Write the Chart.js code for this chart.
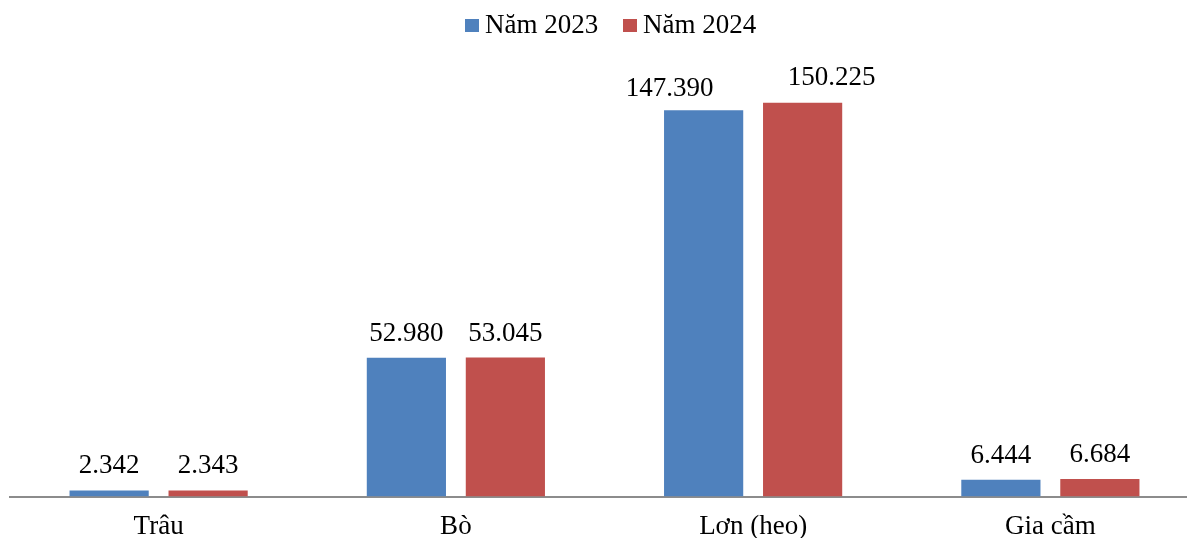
<!DOCTYPE html>
<html>
<head>
<meta charset="utf-8">
<script src="https://cdn.jsdelivr.net/npm/chart.js@4.4.1/dist/chart.umd.min.js"></script>
<style>
html,body{margin:0;padding:0;background:#fff;overflow:hidden;}
#wrap{width:1187px;height:538px;position:relative;overflow:hidden;}
#c{position:absolute;left:0;top:0;}
.lg{position:absolute;top:0;height:44px;font-family:'Liberation Serif','Times New Roman',serif;font-size:27px;color:#000;white-space:nowrap;}
.lg .box{position:absolute;top:19px;width:14px;height:13px;}
.lg .txt{position:absolute;top:4px;line-height:40px;}
</style>
</head>
<body>
<div id="wrap">
  <canvas id="c" width="1200" height="557"></canvas>
  <div id="legend"></div>
</div>
<script>
const categories = ["Trâu", "Bò", "Lơn (heo)", "Gia cầm"];
const series2023 = [2.342, 52.980, 147.390, 6.444];
const series2024 = [2.343, 53.045, 150.225, 6.684];
const labels2023 = ["2.342", "52.980", "147.390", "6.444"];
const labels2024 = ["2.343", "53.045", "150.225", "6.684"];
const seriesNames = ["Năm 2023", "Năm 2024"];
const seriesColors = ["#4F81BD", "#C0504D"];

const FONT = "'Liberation Serif', 'Times New Roman', serif";

// HTML legend
const legendEl = document.getElementById('legend');
const legendX = [465, 623];
seriesNames.forEach((name, i) => {
  const item = document.createElement('div');
  item.className = 'lg';
  item.style.left = legendX[i] + 'px';
  const box = document.createElement('span');
  box.className = 'box';
  box.style.left = '0px';
  box.style.background = seriesColors[i];
  const txt = document.createElement('span');
  txt.className = 'txt';
  txt.style.left = '20px';
  txt.textContent = name;
  item.appendChild(box);
  item.appendChild(txt);
  legendEl.appendChild(item);
});

// label nudges (pixels) for crowded labels, like the original
const labelNudge = {
  "0-2": [-34, 3],
  "1-2": [29, -1]
};

const valueLabels = {
  id: 'valueLabels',
  afterDatasetsDraw(chart) {
    const ctx = chart.ctx;
    const texts = [labels2023, labels2024];
    ctx.save();
    ctx.font = "27px " + FONT;
    ctx.fillStyle = "#000";
    ctx.textAlign = "center";
    ctx.textBaseline = "alphabetic";
    chart.data.datasets.forEach((ds, i) => {
      const meta = chart.getDatasetMeta(i);
      meta.data.forEach((bar, j) => {
        const n = labelNudge[i + "-" + j] || [0, 0];
        ctx.fillText(texts[i][j], bar.x + n[0], bar.y - 17 + n[1]);
      });
    });
    ctx.restore();
  }
};

new Chart(document.getElementById('c'), {
  type: 'bar',
  data: {
    labels: categories,
    datasets: [
      { label: seriesNames[0], data: series2023, backgroundColor: seriesColors[0], barPercentage: 0.8, categoryPercentage: 0.666 },
      { label: seriesNames[1], data: series2024, backgroundColor: seriesColors[1], barPercentage: 0.8, categoryPercentage: 0.666 }
    ]
  },
  options: {
    responsive: false,
    animation: false,
    layout: { padding: { left: 10, right: 1, top: 51, bottom: 0 } },
    plugins: {
      legend: { display: false },
      tooltip: { enabled: false }
    },
    scales: {
      x: {
        grid: { display: false, drawTicks: false },
        border: { display: true, color: '#8c8c8c', width: 2 },
        ticks: { font: { family: FONT, size: 27 }, color: '#000', padding: 14 }
      },
      y: {
        display: false,
        min: 0,
        max: 170
      }
    }
  },
  plugins: [valueLabels]
});
</script>
</body>
</html>
